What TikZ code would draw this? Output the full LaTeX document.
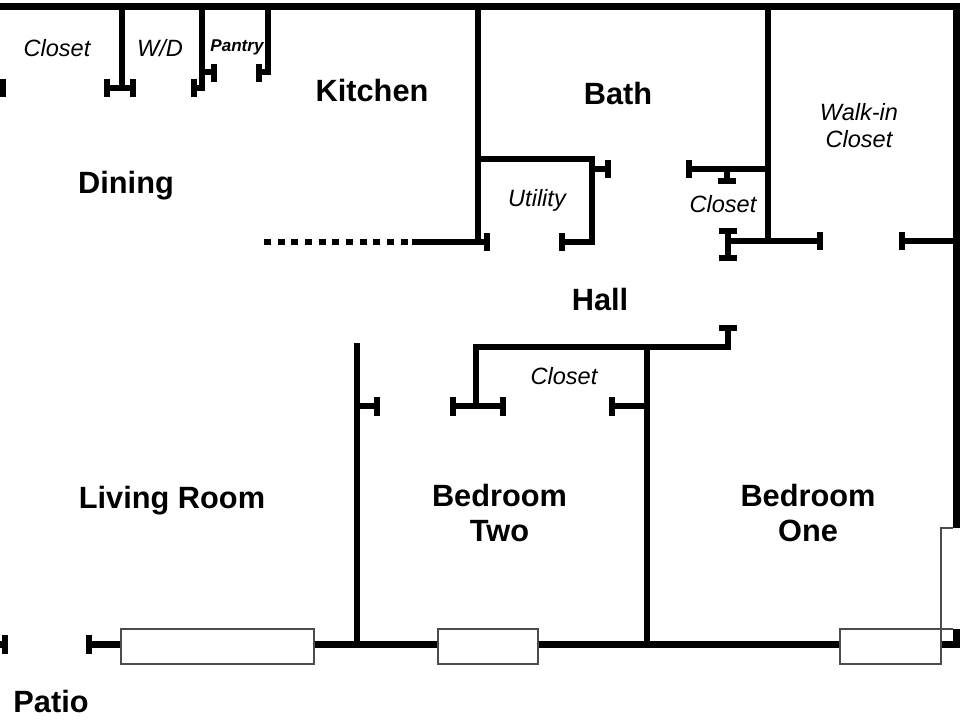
\documentclass[tikz,border=0pt]{standalone}
\usepackage{fontspec}
\setmainfont{Liberation Sans}
\usepackage{xcolor}
\usepackage{tikz}
\usetikzlibrary{arrows.meta,positioning}

\tikzset{
    wall/.style={line width=3.7pt, black},
    jamb/.style={line width=3.7pt, black},
    glazing/.style={draw=black!70, line width=0.8pt, fill=white},
    roomname/.style={font=\fontsize{17.5}{19.8}\selectfont\bfseries, align=center, inner sep=0pt},
    nookname/.style={font=\fontsize{13.4}{15.3}\selectfont\itshape, align=center, inner sep=0pt}
}

\begin{document}
\begin{tikzpicture}[x=0.2mm, y=-0.2mm]
    \useasboundingbox (0, 0) rectangle (960, 720);
    \fill[white] (0, 0) rectangle (960, 720);

    % Outer walls
    \draw[wall] (0, 6.5) -- (960, 6.5);
    \draw[wall] (956.5, 6) -- (956.5, 528);
    \draw[wall] (86, 644.5) -- (956.5, 644.5) -- (956.5, 629);

    % Top closets
    \draw[wall] (122, 6) -- (122, 88);
    \draw[wall] (107, 88) -- (134, 88);
    \draw[wall] (202, 6) -- (202, 88) -- (194, 88);
    \draw[wall] (202, 72) -- (214, 72);
    \draw[wall] (268, 6) -- (268, 72) -- (259, 72);
    \draw[jamb] (3, 79) -- (3, 97);
    \draw[jamb] (107, 79) -- (107, 97);
    \draw[jamb] (133, 79) -- (133, 97);
    \draw[jamb] (194, 79) -- (194, 97);
    \draw[jamb] (214, 64) -- (214, 82);
    \draw[jamb] (259, 64) -- (259, 82);

    % Kitchen and utility
    \draw[wall, dash pattern=on 3.98pt off 3.8pt] (264, 242) -- (408, 242);
    \draw[wall] (412, 242) -- (487, 242);
    \draw[wall] (478, 6) -- (478, 242);
    \draw[wall] (478, 159) -- (592, 159) -- (592, 242) -- (562, 242);
    \draw[wall] (592, 169) -- (608, 169);
    \draw[jamb] (487, 233) -- (487, 251);
    \draw[jamb] (562, 233) -- (562, 251);
    \draw[jamb] (608, 160) -- (608, 178);

    % Bath and walk-in closet
    \draw[wall] (768, 6) -- (768, 241);
    \draw[wall] (689, 169) -- (768, 169);
    \draw[wall] (727, 169) -- (727, 181);
    \draw[wall] (728, 241) -- (820, 241);
    \draw[wall] (728, 231) -- (728, 258);
    \draw[wall] (902, 241) -- (956, 241);
    \draw[jamb] (689, 160) -- (689, 178);
    \draw[jamb] (718, 181) -- (736, 181);
    \draw[jamb] (719, 231) -- (737, 231);
    \draw[jamb] (719, 258) -- (737, 258);
    \draw[jamb] (820, 232) -- (820, 250);
    \draw[jamb] (902, 232) -- (902, 250);

    % Bedrooms
    \draw[wall] (357, 343) -- (357, 644);
    \draw[wall] (357, 406) -- (377, 406);
    \draw[wall] (647, 347) -- (647, 644);
    \draw[wall] (476, 406) -- (476, 347) -- (728, 347) -- (728, 328);
    \draw[wall] (453, 406) -- (503, 406);
    \draw[wall] (612, 406) -- (647, 406);
    \draw[jamb] (377, 397) -- (377, 416);
    \draw[jamb] (453, 397) -- (453, 416);
    \draw[jamb] (503, 397) -- (503, 416);
    \draw[jamb] (612, 397) -- (612, 416);
    \draw[jamb] (719, 328) -- (737, 328);

    % Patio door
    \draw[jamb] (5, 635) -- (5, 654);
    \draw[wall] (0, 644.5) -- (5, 644.5);
    \draw[jamb] (89, 635) -- (89, 654);

    % Windows
    \draw[glazing] (121, 629) rectangle (314, 664);
    \draw[glazing] (438, 629) rectangle (538, 664);
    \draw[glazing] (840, 629) rectangle (941, 664);
    \draw[glazing, fill=none] (953, 528) -- (941, 528) -- (941, 664);
    \draw[glazing, fill=none] (941, 629) -- (953, 629);

    % Labels
    \node[roomname] (kitchen) at (372, 91) {Kitchen};
    \node[roomname] (bath) at (618, 94) {Bath};
    \node[roomname] (dining) at (126, 186) {Dining};
    \node[roomname] (hall) at (600, 300) {Hall};
    \node[roomname] (living) at (172, 501) {Living Room};
    \node[roomname] (bedtwo) at (499.5, 513) {Bedroom\\Two};
    \node[roomname] (bedone) at (808, 513) {Bedroom\\One};
    \node[roomname] (patio) at (51, 701) {Patio};

    \node[nookname] (closettop) at (57, 48) {Closet};
    \node[nookname] (washer) at (160, 48) {W/D};
    \node[nookname, font=\fontsize{9.7}{12}\selectfont\bfseries\itshape] (pantry) at (237, 47) {Pantry};
    \node[nookname] (walkin) at (859, 126) {Walk-in\\Closet};
    \node[nookname] (utility) at (537, 200) {Utility};
    \node[nookname] (closethall) at (723, 204) {Closet};
    \node[nookname] (closetbed) at (564, 376) {Closet};
\end{tikzpicture}
\end{document}
